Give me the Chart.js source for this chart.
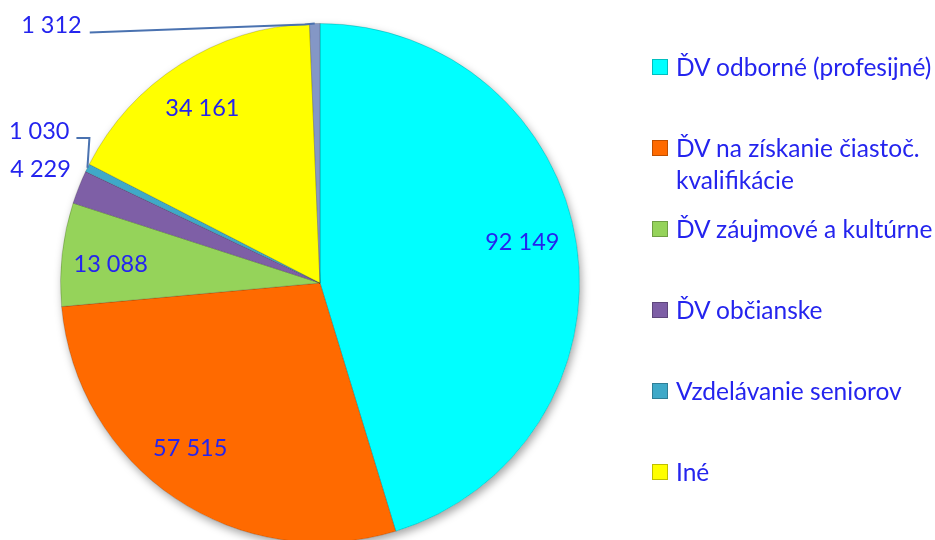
<!DOCTYPE html>
<html>
<head>
<meta charset="utf-8">
<script src="https://cdn.jsdelivr.net/npm/chart.js@4/dist/chart.umd.min.js"></script>
<style>
  html, body { margin: 0; padding: 0; background: #fff; overflow: hidden; width: 935px; height: 540px; }
  #wrap { position: absolute; left: 0; top: 0; width: 935px; height: 546px; }
  #legend { position: absolute; left: 652px; top: 51px; font-family: Lato, "Open Sans", sans-serif; font-size: 24.5px; color: #2424EE; }
  .item { position: relative; height: 81px; padding-left: 24px; line-height: 32px; white-space: nowrap; }
  .sw { position: absolute; left: 0; top: 8px; width: 16px; height: 16px; box-sizing: border-box; border: 1px solid rgba(0,0,0,0.25); }
</style>
</head>
<body>
<div id="wrap"><canvas id="c" width="935" height="546"></canvas></div>
<div id="legend"></div>
<script>
// ---- data ----
const categories = [
  'ĎV odborné (profesijné)',
  ['ĎV na získanie čiastoč.', 'kvalifikácie'],
  'ĎV záujmové a kultúrne',
  'ĎV občianske',
  'Vzdelávanie seniorov',
  'Iné',
  ''
];
const values = [92149, 57515, 13088, 4229, 1030, 34161, 1312];
const inLegend = [true, true, true, true, true, true, false];

// ---- styles ----
const colors = ['#00FFFF', '#FF6A00', '#95D35A', '#7E5FA6', '#3FA9C8', '#FFFF00', '#8497C6'];
const textColor = '#2424EE';
const leaderColor = '#4A72B0';
// label placement: 'in' = inside at radial factor (+ small nudge); 'out' = outside, relative to outer point at mid-angle
const labelPlace = [
  { mode: 'in', f: 0.8, nx: -3, ny: -10 },
  { mode: 'in', f: 0.8, nx: -14, ny: -7 },
  { mode: 'in', f: 0.8, nx: -3, ny: 4 },
  { mode: 'out', tx: -8, ty: -18, line: null },
  { mode: 'out', tx: -18, ty: -36, line: [[2, -30], [-11, -30]] },
  { mode: 'in', f: 0.8, nx: -6, ny: 0 },
  { mode: 'out', tx: -233, ty: 2, line: [[-10, 1], [-225, 9]] }
];

function fmt(v) { return String(v).replace(/\B(?=(\d{3})+(?!\d))/g, ' '); }

const shadowPlugin = {
  id: 'pieShadow',
  beforeDatasetsDraw(chart) {
    const arc = chart.getDatasetMeta(0).data[0];
    if (!arc) return;
    const ctx = chart.ctx;
    ctx.save();
    ctx.beginPath();
    ctx.arc(arc.x, arc.y, arc.outerRadius, 0, Math.PI * 2);
    ctx.shadowColor = 'rgba(0,0,0,0.35)';
    ctx.shadowBlur = 8;
    ctx.shadowOffsetX = 2;
    ctx.shadowOffsetY = 4;
    ctx.fillStyle = '#ffffff';
    ctx.fill();
    ctx.restore();
  }
};

const labelPlugin = {
  id: 'pieLabels',
  afterDatasetsDraw(chart) {
    const ctx = chart.ctx;
    const meta = chart.getDatasetMeta(0);
    ctx.save();
    ctx.font = '23.5px Lato, "Open Sans", sans-serif';
    ctx.fillStyle = textColor;
    ctx.textBaseline = 'middle';
    meta.data.forEach((arc, i) => {
      const p = arc.getProps(['x', 'y', 'startAngle', 'endAngle', 'outerRadius'], true);
      const mid = (p.startAngle + p.endAngle) / 2;
      const cfg = labelPlace[i];
      const txt = fmt(values[i]);
      if (cfg.mode === 'in') {
        const r = p.outerRadius * cfg.f;
        ctx.textAlign = 'center';
        ctx.fillText(txt, p.x + Math.cos(mid) * r + cfg.nx, p.y + Math.sin(mid) * r + cfg.ny);
      } else {
        const ax = p.x + Math.cos(mid) * p.outerRadius;
        const ay = p.y + Math.sin(mid) * p.outerRadius;
        if (cfg.line) {
          ctx.save();
          ctx.strokeStyle = leaderColor;
          ctx.lineWidth = 2;
          ctx.beginPath();
          ctx.moveTo(ax, ay);
          cfg.line.forEach(pt => ctx.lineTo(ax + pt[0], ay + pt[1]));
          ctx.stroke();
          ctx.restore();
        }
        ctx.textAlign = 'right';
        ctx.fillText(txt, ax + cfg.tx, ay + cfg.ty);
      }
    });
    ctx.restore();
  }
};

new Chart(document.getElementById('c'), {
  type: 'pie',
  data: {
    labels: categories,
    datasets: [{
      data: values,
      backgroundColor: colors,
      borderColor: 'rgba(0,0,0,0.18)',
      borderWidth: 1
    }]
  },
  options: {
    responsive: false,
    devicePixelRatio: 1,
    animation: false,
    layout: { padding: { left: 60, right: 355, top: 23, bottom: 3 } },
    plugins: { legend: { display: false }, tooltip: { enabled: false } }
  },
  plugins: [shadowPlugin, labelPlugin]
});

// HTML legend built from the data arrays
const lg = document.getElementById('legend');
categories.forEach((c, i) => {
  if (!inLegend[i]) return;
  const d = document.createElement('div');
  d.className = 'item';
  const sw = document.createElement('span');
  sw.className = 'sw';
  sw.style.background = colors[i];
  d.appendChild(sw);
  const lines = Array.isArray(c) ? c : [c];
  lines.forEach((l, k) => {
    if (k) d.appendChild(document.createElement('br'));
    d.appendChild(document.createTextNode(l));
  });
  lg.appendChild(d);
});
</script>
</body>
</html>
